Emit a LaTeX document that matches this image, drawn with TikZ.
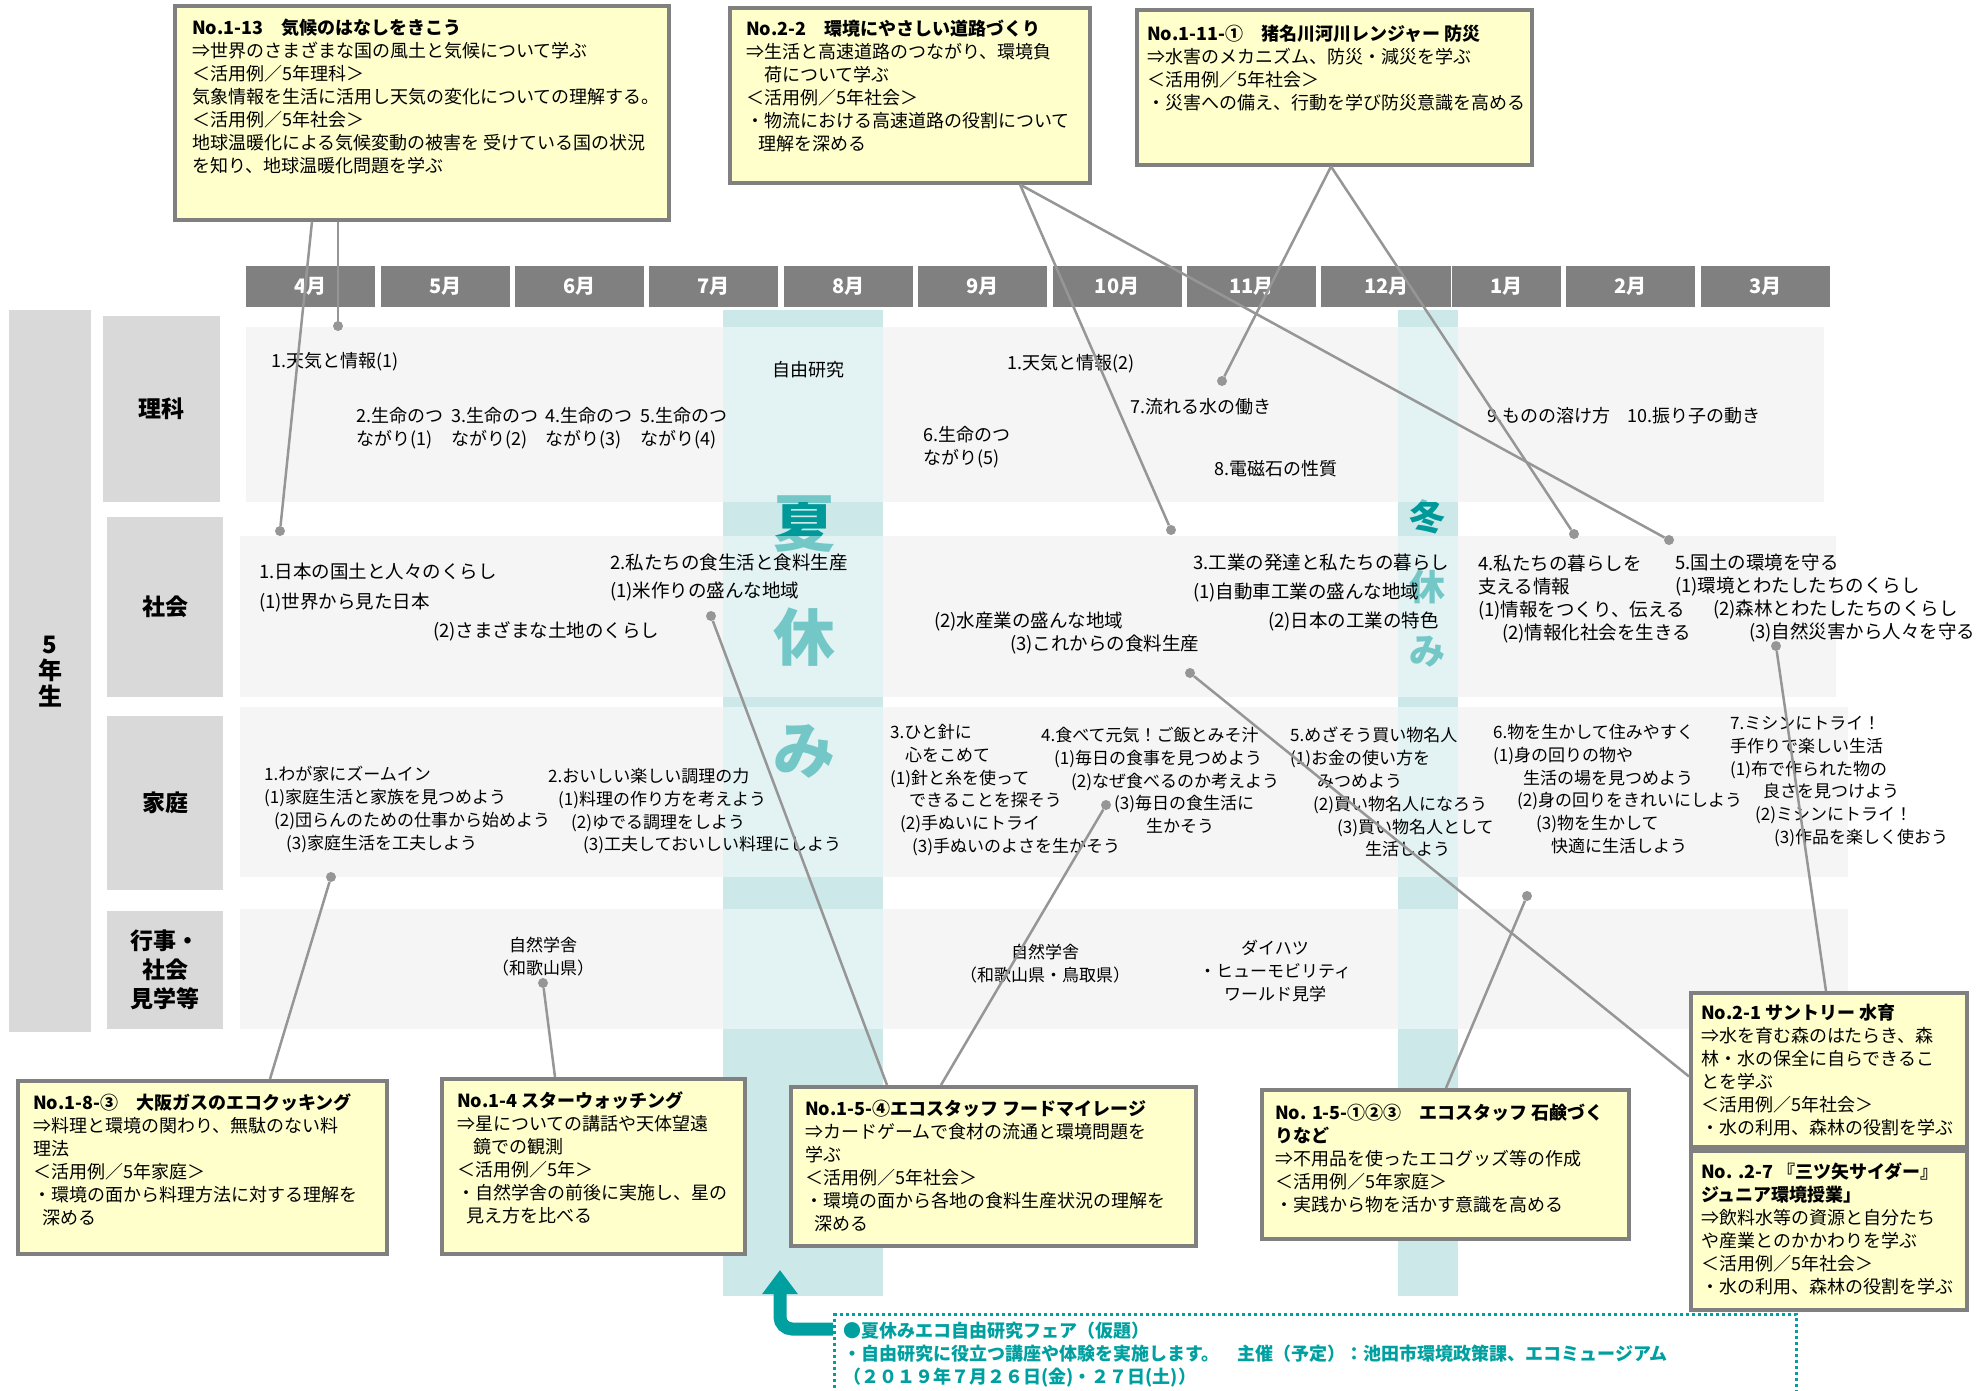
\documentclass[tikz,border=0pt]{standalone}
\usepackage{fontspec}
\setmainfont{Noto Sans CJK JP}
\usetikzlibrary{arrows.meta, positioning}

\definecolor{boxfill}{RGB}{255,255,204}
\definecolor{boxline}{RGB}{128,128,128}
\definecolor{rowbg}{RGB}{238,238,238}
\definecolor{labelbg}{RGB}{217,217,217}
\definecolor{monthbg}{RGB}{128,128,128}
\definecolor{bandcol}{RGB}{204,232,233}
\definecolor{holiteal}{RGB}{0,153,153}
\definecolor{fairteal}{RGB}{0,160,160}
\definecolor{linkgray}{RGB}{150,150,150}

\begin{document}
\begin{tikzpicture}[x=1pt, y=-1pt,
    infobox/.style={draw=boxline, line width=3.5pt, fill=boxfill, anchor=north west, inner sep=0},
    boxtext/.style={anchor=north west, inner sep=0, align=left, font=\fontsize{18}{23}\selectfont},
    month/.style={fill=monthbg, text=white, minimum width=129pt, minimum height=41pt, inner sep=0, font=\fontsize{20}{20}\selectfont\bfseries},
    rowbox/.style={fill=rowbg, anchor=north west, inner sep=0},
    subject/.style={fill=labelbg, anchor=north west, inner sep=0, align=center, font=\fontsize{23}{29}\selectfont\bfseries},
    sci/.style={anchor=north west, inner sep=0, align=left, font=\fontsize{18}{23}\selectfont},
    soc/.style={anchor=north west, inner sep=0, align=left, font=\fontsize{18.5}{23}\selectfont},
    home/.style={anchor=north west, inner sep=0, align=left, font=\fontsize{17}{22.8}\selectfont},
    event/.style={anchor=north, inner sep=0, align=center, font=\fontsize{17}{23}\selectfont},
    veil/.style={fill=white, fill opacity=0.45},
    link/.style={draw=linkgray, line width=2.5pt},
    dot/.style={circle, fill=linkgray, inner sep=0, minimum size=10pt},
    fairbox/.style={draw=fairteal, line width=3pt, dash pattern=on 3pt off 3pt, anchor=north west, inner sep=0},
    bigarrow/.style={draw=fairteal, line width=13pt, rounded corners=12pt, -{Triangle[width=34pt,length=24pt]}}
]
\useasboundingbox (0,0) rectangle (1979,1390);
\fill[white] (0,0) rectangle (1979,1390);

% Rows
\node[rowbox, minimum width=1578pt, minimum height=175pt] (rowsci) at (246,327) {};
\node[rowbox, minimum width=1596pt, minimum height=161pt] (rowsoc) at (240,536) {};
\node[rowbox, minimum width=1608pt, minimum height=170pt] (rowhome) at (240,707) {};
\node[rowbox, minimum width=1608pt, minimum height=120pt] (rowevt) at (240,909) {};

% Labels
\node[subject, minimum width=82pt, minimum height=722pt, font=\fontsize{24}{26}\selectfont\bfseries] (grade) at (9,310) {5\\年\\生};
\node[subject, minimum width=117pt, minimum height=186pt] (labsci) at (103,316) {理科};
\node[subject, minimum width=116pt, minimum height=180pt] (labsoc) at (107,517) {社会};
\node[subject, minimum width=116pt, minimum height=174pt] (labhome) at (107,716) {家庭};
\node[subject, minimum width=116pt, minimum height=118pt] (labevt) at (107,911) {行事・\\社会\\見学等};

% Holidays
\fill[bandcol] (723,310) rectangle (883,1296);
\fill[bandcol] (1398,310) rectangle (1458,1296);
\node[text=holiteal, inner sep=0, font=\fontsize{62}{62}\selectfont\bfseries] (sum1) at (804,524) {夏};
\node[text=holiteal, inner sep=0, font=\fontsize{62}{62}\selectfont\bfseries] (sum2) at (804,637) {休};
\node[text=holiteal, inner sep=0, font=\fontsize{62}{62}\selectfont\bfseries] (sum3) at (804,751) {み};
\node[text=holiteal, inner sep=0, font=\fontsize{36}{36}\selectfont\bfseries] (win1) at (1427,517) {冬};
\node[text=holiteal, inner sep=0, font=\fontsize{36}{36}\selectfont\bfseries] (win2) at (1427,587) {休};
\node[text=holiteal, inner sep=0, font=\fontsize{36}{36}\selectfont\bfseries] (win3) at (1427,652) {み};
\fill[veil] (rowsci.north west) rectangle (rowsci.south east);
\fill[veil] (rowsoc.north west) rectangle (rowsoc.south east);
\fill[veil] (rowhome.north west) rectangle (rowhome.south east);
\fill[veil] (rowevt.north west) rectangle (rowevt.south east);

% Header
\node[month, anchor=north west] (m4) at (246,266) {4月};
\node[month, right=5pt of m4] (m5) {5月};
\node[month, right=5pt of m5] (m6) {6月};
\node[month, right=5pt of m6] (m7) {7月};
\node[month, right=5pt of m7] (m8) {8月};
\node[month, right=5pt of m8] (m9) {9月};
\node[month, right=5pt of m9] (m10) {10月};
\node[month, right=5pt of m10] (m11) {11月};
\node[month, right=5pt of m11, minimum width=130pt] (m12) {12月};
\node[month, right=0pt of m12, minimum width=109pt] (m1) {1月};
\node[month, right=5pt of m1] (m2) {2月};
\node[month, right=5pt of m2] (m3) {3月};

% Row 理科
\node[sci] (sci1) at (271,352) {1.天気と情報(1)};
\node[sci] (sci2) at (356,407) {2.生命のつ\\ながり(1)};
\node[sci] (sci3) at (451,407) {3.生命のつ\\ながり(2)};
\node[sci] (sci4) at (545,407) {4.生命のつ\\ながり(3)};
\node[sci] (sci5) at (640,407) {5.生命のつ\\ながり(4)};
\node[sci] (sci6) at (772,361) {自由研究};
\node[sci] (sci7) at (923,426) {6.生命のつ\\ながり(5)};
\node[sci] (sci8) at (1007,354) {1.天気と情報(2)};
\node[sci] (sci9) at (1130,398) {7.流れる水の働き};
\node[sci] (sci10) at (1214,460) {8.電磁石の性質};
\node[sci] (sci11) at (1487,407) {9.ものの溶け方};
\node[sci] (sci12) at (1627,407) {10.振り子の動き};

% Row 社会
\node[soc] (soc1) at (259,563) {1.日本の国土と人々のくらし};
\node[soc] (soc2) at (259,593) {(1)世界から見た日本};
\node[soc] (soc3) at (433,621) {(2)さまざまな土地のくらし};
\node[soc] (soc4) at (610,554) {2.私たちの食生活と食料生産};
\node[soc] (soc5) at (610,582) {(1)米作りの盛んな地域};
\node[soc] (soc6) at (934,612) {(2)水産業の盛んな地域};
\node[soc] (soc7) at (1010,635) {(3)これからの食料生産};
\node[soc] (soc8) at (1193,554) {3.工業の発達と私たちの暮らし};
\node[soc] (soc9) at (1193,583) {(1)自動車工業の盛んな地域};
\node[soc] (soc10) at (1268,612) {(2)日本の工業の特色};
\node[soc] (soc11) at (1478,555) {4.私たちの暮らしを\\支える情報\\(1)情報をつくり、伝える\\\hspace*{24pt}(2)情報化社会を生きる};
\node[soc] (soc12) at (1675,554) {5.国土の環境を守る\\(1)環境とわたしたちのくらし\\\hspace*{38pt}(2)森林とわたしたちのくらし\\\hspace*{74pt}(3)自然災害から人々を守る};

% Row 家庭
\node[home] (home1) at (264,766) {1.わが家にズームイン\\(1)家庭生活と家族を見つめよう\\\hspace*{10pt}(2)団らんのための仕事から始めよう\\\hspace*{22pt}(3)家庭生活を工夫しよう};
\node[home] (home2) at (548,768) {2.おいしい楽しい調理の力\\\hspace*{10pt}(1)料理の作り方を考えよう\\\hspace*{23pt}(2)ゆでる調理をしよう\\\hspace*{35pt}(3)工夫しておいしい料理にしよう};
\node[home] (home3) at (890,724) {3.ひと針に\\\hspace*{15pt}心をこめて\\(1)針と糸を使って\\\hspace*{19pt}できることを探そう\\\hspace*{10pt}(2)手ぬいにトライ\\\hspace*{22pt}(3)手ぬいのよさを生かそう};
\node[home] (home4) at (1041,727) {4.食べて元気！ご飯とみそ汁\\\hspace*{13pt}(1)毎日の食事を見つめよう\\\hspace*{30pt}(2)なぜ食べるのか考えよう\\\hspace*{73pt}(3)毎日の食生活に\\\hspace*{105pt}生かそう};
\node[home] (home5) at (1290,727) {5.めざそう買い物名人\\(1)お金の使い方を\\\hspace*{27pt}みつめよう\\\hspace*{23pt}(2)買い物名人になろう\\\hspace*{47pt}(3)買い物名人として\\\hspace*{75pt}生活しよう};
\node[home] (home6) at (1493,724) {6.物を生かして住みやすく\\(1)身の回りの物や\\\hspace*{30pt}生活の場を見つめよう\\\hspace*{24pt}(2)身の回りをきれいにしよう\\\hspace*{43pt}(3)物を生かして\\\hspace*{58pt}快適に生活しよう};
\node[home] (home7) at (1730,716) {7.ミシンにトライ！\\手作りで楽しい生活\\(1)布で作られた物の\\\hspace*{33pt}良さを見つけよう\\\hspace*{25pt}(2)ミシンにトライ！\\\hspace*{44pt}(3)作品を楽しく使おう};

% Row 行事
\node[event] (evt1) at (543,937) {自然学舎\\（和歌山県）};
\node[event] (evt2) at (1045,944) {自然学舎\\（和歌山県・鳥取県）};
\node[event] (evt3) at (1275,940) {ダイハツ\\・ヒューモビリティ\\ワールド見学};

% Boxes
\node[infobox, minimum width=494pt, minimum height=214pt] (b113) at (173,4) {};
\node[boxtext] at ([xshift=19pt, yshift=-15pt]b113.north west) {{\bfseries No.1-13　気候のはなしをきこう}\\⇒世界のさまざまな国の風土と気候について学ぶ\\＜活用例／5年理科＞\\気象情報を生活に活用し天気の変化についての理解する。\\＜活用例／5年社会＞\\地球温暖化による気候変動の被害を 受けている国の状況\\を知り、地球温暖化問題を学ぶ};
\node[infobox, minimum width=360pt, minimum height=175pt] (b22) at (728,6) {};
\node[boxtext] at ([xshift=18pt, yshift=-14pt]b22.north west) {{\bfseries No.2-2　環境にやさしい道路づくり}\\⇒生活と高速道路のつながり、環境負\\\hspace*{18pt}荷について学ぶ\\＜活用例／5年社会＞\\・物流における高速道路の役割について\\\hspace*{12pt}理解を深める};
\node[infobox, minimum width=395pt, minimum height=155pt] (b111) at (1135,8) {};
\node[boxtext] at ([xshift=12pt, yshift=-17pt]b111.north west) {{\bfseries No.1-11-①　猪名川河川レンジャー 防災}\\⇒水害のメカニズム、防災・減災を学ぶ\\＜活用例／5年社会＞\\・災害への備え、行動を学び防災意識を高める};
\node[infobox, minimum width=369pt, minimum height=173pt] (b18) at (16,1079) {};
\node[boxtext] at ([xshift=17pt, yshift=-14pt]b18.north west) {{\bfseries No.1-8-③　大阪ガスのエコクッキング}\\⇒料理と環境の関わり、無駄のない料\\理法\\＜活用例／5年家庭＞\\・環境の面から料理方法に対する理解を\\\hspace*{9pt}深める};
\node[infobox, minimum width=303pt, minimum height=175pt] (b14) at (440,1077) {};
\node[boxtext] at ([xshift=17pt, yshift=-14pt]b14.north west) {{\bfseries No.1-4 スターウォッチング}\\⇒星についての講話や天体望遠\\\hspace*{16pt}鏡での観測\\＜活用例／5年＞\\・自然学舎の前後に実施し、星の\\\hspace*{9pt}見え方を比べる};
\node[infobox, minimum width=405pt, minimum height=159pt] (b15) at (789,1085) {};
\node[boxtext] at ([xshift=16pt, yshift=-15pt]b15.north west) {{\bfseries No.1-5-④エコスタッフ フードマイレージ}\\⇒カードゲームで食材の流通と環境問題を\\学ぶ\\＜活用例／5年社会＞\\・環境の面から各地の食料生産状況の理解を\\\hspace*{9pt}深める};
\node[infobox, minimum width=367pt, minimum height=149pt] (b15b) at (1260,1088) {};
\node[boxtext] at ([xshift=15pt, yshift=-16pt]b15b.north west) {{\bfseries No. 1-5-①②③　エコスタッフ 石鹸づく}\\{\bfseries りなど}\\⇒不用品を使ったエコグッズ等の作成\\＜活用例／5年家庭＞\\・実践から物を活かす意識を高める};
\node[infobox, minimum width=276pt, minimum height=154pt] (b21) at (1689,991) {};
\node[boxtext] at ([xshift=12pt, yshift=-13pt]b21.north west) {{\bfseries No.2-1 サントリー 水育}\\⇒水を育む森のはたらき、森\\林・水の保全に自らできるこ\\とを学ぶ\\＜活用例／5年社会＞\\・水の利用、森林の役割を学ぶ};
\node[infobox, minimum width=276pt, minimum height=159pt] (b27) at (1689,1149) {};
\node[boxtext] at ([xshift=12pt, yshift=-13pt]b27.north west) {{\bfseries No. .2-7 『三ツ矢サイダー』}\\{\bfseries ジュニア環境授業」}\\⇒飲料水等の資源と自分たち\\や産業とのかかわりを学ぶ\\＜活用例／5年社会＞\\・水の利用、森林の役割を学ぶ};

% Connectors
\node[dot] (d1) at (280,531) {};
\node[dot] (d2) at (338,326) {};
\node[dot] (d3) at (1171,530) {};
\node[dot] (d4) at (1669,540) {};
\node[dot] (d5) at (1222,381) {};
\node[dot] (d6) at (1574,534) {};
\node[dot] (d7) at (331,877) {};
\node[dot] (d8) at (543,983) {};
\node[dot] (d9) at (711,616) {};
\node[dot] (d10) at (1106,805) {};
\node[dot] (d11) at (1527,896) {};
\node[dot] (d12) at (1190,673) {};
\node[dot] (d13) at (1776,646) {};
\draw[link] ([xshift=139pt]b113.south west) -- (d1);
\draw[link] ([xshift=165pt]b113.south west) -- (d2);
\draw[link] ([xshift=292pt]b22.south west) -- (d3);
\draw[link] ([xshift=292pt]b22.south west) -- (d4);
\draw[link] ([xshift=196pt]b111.south west) -- (d5);
\draw[link] ([xshift=196pt]b111.south west) -- (d6);
\draw[link] ([xshift=254pt]b18.north west) -- (d7);
\draw[link] ([xshift=115pt]b14.north west) -- (d8);
\draw[link] ([xshift=98pt]b15.north west) -- (d9);
\draw[link] ([xshift=152pt]b15.north west) -- (d10);
\draw[link] ([xshift=186pt]b15b.north west) -- (d11);
\draw[link] ([yshift=72pt]b21.south west) -- (d12);
\draw[link] ([xshift=137pt]b21.north west) -- (d13);

% Fair
\node[fairbox, minimum width=962pt, minimum height=100pt] (fair) at (833,1313) {};
\node[anchor=north west, inner sep=0, align=left, text=fairteal, font=\fontsize{18}{23}\selectfont\bfseries] (fairtext) at (843,1322) {●夏休みエコ自由研究フェア（仮題）\\・自由研究に役立つ講座や体験を実施します。　主催（予定）：池田市環境政策課、エコミュージアム\\（２０１９年７月２６日(金)・２７日(土)）};
\coordinate (arrtip) at (780,1270);
\draw[bigarrow] ([yshift=-16pt]fair.north west) -| (arrtip);

\end{tikzpicture}
\end{document}
